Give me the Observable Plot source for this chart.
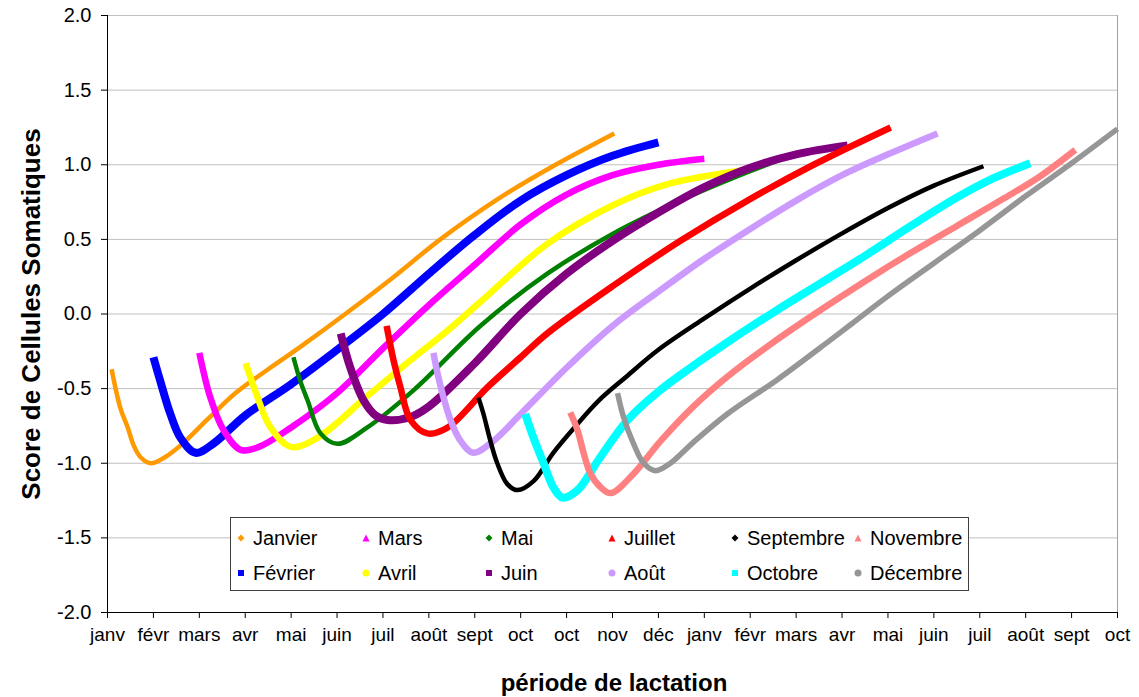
<!DOCTYPE html>
<html><head><meta charset="utf-8">
<script src="https://cdn.jsdelivr.net/npm/d3@7"></script>
<script src="https://cdn.jsdelivr.net/npm/@observablehq/plot@0.6"></script>
<style>
body{margin:0;background:#fff;font-family:"Liberation Sans",Arial,sans-serif;}
#wrap{position:relative;width:1139px;height:697px;overflow:hidden;}
.title{position:absolute;font-weight:bold;color:#000;white-space:nowrap;transform:translate(-50%,-50%);}
#ytitle{left:31px;top:314px;font-size:26px;transform:translate(-50%,-50%) rotate(-90deg);}
#xtitle{left:614px;top:683px;font-size:24px;}
#legend{position:absolute;left:230px;top:517px;width:739px;height:74px;border:1px solid #404040;background:#fff;box-sizing:border-box;}
.item{position:absolute;font-size:20px;line-height:20px;color:#000;white-space:nowrap;transform:translateY(-50%);}
.item svg{position:absolute;left:-16px;top:6px;}
#wrap svg g[aria-label="y-axis tick label"]{font-size:20px;}
#wrap svg g[aria-label="x-axis tick label"]{font-size:19px;}
</style></head><body>
<div id="wrap"></div>
<script>
// Tick labels
const monthLabels = ["janv","févr","mars","avr","mai","juin","juil","août","sept","oct","oct","nov","déc","janv","févr","mars","avr","mai","juin","juil","août","sept","oct"];
const yTicks = [-2,-1.5,-1,-0.5,0,0.5,1,1.5,2];
const seriesNames = ["Janvier","Février","Mars","Avril","Mai","Juin","Juillet","Août","Septembre","Octobre","Novembre","Décembre"];

// Series (x = month position on the axis, y = score)
const janvierX = [0.09,0.28,0.44,0.57,0.72,0.94,1.25,1.63,2.2,2.79,3.5,4.2,5.18,6.2,7.25,8.5,9.76,11.04];
const janvierY = [-0.37,-0.63,-0.76,-0.88,-0.96,-1.0,-0.96,-0.87,-0.70,-0.53,-0.37,-0.22,0.0,0.24,0.5,0.77,1.0,1.21];
const fevrierX = [1.0,1.15,1.37,1.59,1.92,2.3,3.0,4.0,5.0,6.0,7.0,8.0,9.0,10.0,11.0,12.0];
const fevrierY = [-0.29,-0.45,-0.67,-0.83,-0.93,-0.87,-0.68,-0.47,-0.24,0.0,0.27,0.53,0.76,0.93,1.06,1.15];
const marsX = [2.0,2.24,2.53,2.9,3.3,4.0,5.0,6.0,7.0,8.0,9.0,10.0,11.0,12.0,13.0];
const marsY = [-0.26,-0.56,-0.78,-0.91,-0.89,-0.76,-0.53,-0.23,0.06,0.33,0.6,0.8,0.93,1.0,1.04];
const avrilX = [3.01,3.27,3.55,3.99,4.57,5.66,6.6,7.41,8.12,9.58,11.02,12.2,14.0];
const avrilY = [-0.33,-0.56,-0.76,-0.89,-0.83,-0.55,-0.31,-0.11,0.08,0.47,0.73,0.87,0.97];
const maiX = [4.05,4.2,4.36,4.64,5.01,5.66,6.67,8.12,9.58,11.02,12.48,13.94,15.05];
const maiY = [-0.29,-0.45,-0.58,-0.80,-0.87,-0.76,-0.51,-0.08,0.27,0.54,0.76,0.95,1.08];
const juinX = [5.08,5.29,5.58,5.84,6.1,6.6,7.0,8.0,9.0,10.0,11.0,12.0,13.0,14.0,15.0,16.12];
const juinY = [-0.13,-0.36,-0.58,-0.68,-0.71,-0.69,-0.62,-0.33,0.0,0.27,0.49,0.68,0.85,0.98,1.07,1.13];
const juilletX = [6.08,6.23,6.38,6.6,6.97,7.41,8.28,9.0,9.58,11.02,12.48,13.94,15.38,17.06];
const juilletY = [-0.08,-0.31,-0.49,-0.71,-0.80,-0.76,-0.49,-0.29,-0.13,0.19,0.49,0.76,1.0,1.25];
const aoutX = [7.1,7.19,7.32,7.47,7.69,7.97,8.41,9.0,10.0,11.0,12.0,13.0,14.0,15.0,16.0,17.0,18.08];
const aoutY = [-0.26,-0.40,-0.56,-0.71,-0.85,-0.93,-0.85,-0.67,-0.36,-0.08,0.15,0.37,0.57,0.76,0.93,1.07,1.21];
const septembreX = [8.08,8.19,8.34,8.49,8.71,8.93,9.28,9.71,10.2,10.7,11.3,12.0,13.0,14.0,15.0,16.0,17.0,18.0,19.08];
const septembreY = [-0.56,-0.67,-0.85,-1.0,-1.14,-1.18,-1.12,-0.93,-0.75,-0.58,-0.42,-0.24,-0.03,0.17,0.36,0.54,0.71,0.86,0.99];
const octobreX = [9.1,9.28,9.5,9.71,9.91,10.24,10.69,11.33,12.0,12.7,13.5,14.5,15.5,16.5,17.5,18.5,19.3,20.1];
const octobreY = [-0.67,-0.83,-1.0,-1.16,-1.23,-1.18,-0.98,-0.71,-0.52,-0.36,-0.19,0.01,0.2,0.39,0.59,0.78,0.91,1.01];
const novembreX = [10.08,10.24,10.37,10.52,10.74,10.96,11.46,12.05,12.76,13.5,14.5,15.5,16.5,17.5,18.5,19.5,20.3,21.08];
const novembreY = [-0.66,-0.78,-0.93,-1.07,-1.16,-1.20,-1.07,-0.85,-0.62,-0.42,-0.19,0.02,0.22,0.41,0.59,0.77,0.92,1.10];
const decembreX = [11.11,11.24,11.46,11.68,11.94,12.26,12.76,13.5,14.59,15.68,16.19,17.0,18.0,19.0,20.0,21.0,22.0];
const decembreY = [-0.53,-0.69,-0.87,-1.0,-1.05,-1.0,-0.86,-0.67,-0.44,-0.19,-0.07,0.12,0.34,0.56,0.79,1.01,1.24];

const seriesX = [janvierX,fevrierX,marsX,avrilX,maiX,juinX,juilletX,aoutX,septembreX,octobreX,novembreX,decembreX];
const seriesY = [janvierY,fevrierY,marsY,avrilY,maiY,juinY,juilletY,aoutY,septembreY,octobreY,novembreY,decembreY];

// Styles
const colors = ["#FF9900","#0000FF","#FF00FF","#FFFF00","#008000","#800080","#FF0000","#CC99FF","#000000","#00FFFF","#FF8080","#969696"];
const widths = [4.5,8,6.5,6.5,4.5,8,6.5,6.5,4.5,8,6.5,5.5];
const symbols = ["diamond","square","triangle","circle","diamond","square","triangle","circle","diamond","square","triangle","circle"];

const data = seriesNames.flatMap((name, i) => seriesX[i].map((x, j) => ({series: name, x, y: seriesY[i][j]})));

const chart = Plot.plot({
  width: 1139, height: 697,
  marginLeft: 107, marginRight: 22, marginTop: 15, marginBottom: 85,
  x: {domain: [0, 22]},
  y: {domain: [-2, 2]},
  style: {fontFamily: '"Liberation Sans", Arial, sans-serif', fontSize: "19px", color: "#000", background: "#fff", overflow: "visible"},
  marks: [
    Plot.gridY(yTicks, {stroke: "#c0c0c0", strokeOpacity: 1}),
    Plot.ruleX([22], {stroke: "#a0a0a0"}),
    ...seriesNames.map((name, i) => Plot.line(data.filter(d => d.series === name), {
      x: "x", y: "y", stroke: colors[i], strokeWidth: widths[i], curve: "catmull-rom", strokeLinejoin: "round", strokeLinecap: "butt"
    })),
    Plot.ruleX([0], {stroke: "#000"}),
    Plot.ruleY([-2], {stroke: "#000"}),
    Plot.axisY(yTicks, {tickFormat: d => d.toFixed(1), tickSize: 6, tickPadding: 10, label: null, fontSize: 20}),
    Plot.axisX(d3.range(monthLabels.length), {tickFormat: i => monthLabels[i], tickSize: 6, tickPadding: 9, label: null, fontSize: 19})
  ]
});

const wrap = document.getElementById("wrap");
wrap.appendChild(chart);

function addTitle(id, text) {
  const d = document.createElement("div");
  d.className = "title"; d.id = id; d.textContent = text;
  wrap.appendChild(d);
}
addTitle("ytitle", "Score de Cellules Somatiques");
addTitle("xtitle", "période de lactation");

// Legend
const legend = document.createElement("div");
legend.id = "legend";
wrap.appendChild(legend);
const colLeft = [22, 147, 270, 393, 516, 639];
const rowTop = [20, 55];
const legendOrder = [0,2,4,6,8,10,1,3,5,7,9,11];
legendOrder.forEach((si, k) => {
  const row = Math.floor(k / 6), col = k % 6;
  const it = document.createElement("div");
  it.className = "item";
  it.style.left = colLeft[col] + "px";
  it.style.top = rowTop[row] + "px";
  const sym = symbols[si], c = colors[si];
  let shape;
  if (sym === "diamond") shape = `<path d="M4,0.5L7.5,4L4,7.5L0.5,4Z" fill="${c}"/>`;
  else if (sym === "square") shape = `<rect x="1" y="1" width="6" height="6" fill="${c}"/>`;
  else if (sym === "triangle") shape = `<path d="M4,0.5L7.5,7.5L0.5,7.5Z" fill="${c}"/>`;
  else shape = `<circle cx="4" cy="4" r="3.5" fill="${c}"/>`;
  it.innerHTML = `<svg width="8" height="8" viewBox="0 0 8 8">${shape}</svg>${seriesNames[si]}`;
  legend.appendChild(it);
});
</script>
</body></html>
